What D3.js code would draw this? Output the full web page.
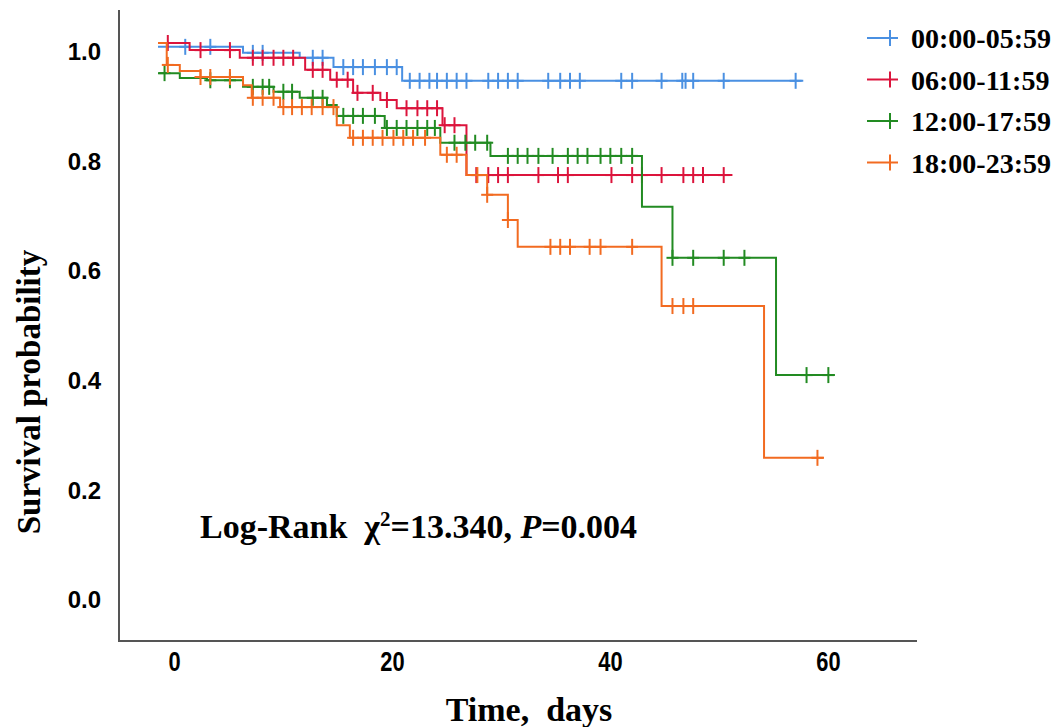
<!DOCTYPE html>
<html>
<head>
<meta charset="utf-8">
<script src="https://cdn.jsdelivr.net/npm/d3@7"></script>
<style>
  body { margin: 0; background: #fff; }
  svg { display: block; }
</style>
</head>
<body>
<script>
// Størrelse på SVG
const w = 1061;
const h = 727;

// Grupper (tidspunkt på døgnet) og farver
const groups = ["00:00-05:59", "06:00-11:59", "12:00-17:59", "18:00-23:59"];
const colors = ["#4a90e2", "#dc143c", "#228b22", "#f26b21"];

// Trin i Kaplan-Meier kurverne: [tid (dage), overlevelse]
const stepsBlue = [[0, 0.993], [7.8, 0.982], [13.0, 0.973], [16.1, 0.956], [22.4, 0.931], [59.2, 0.931]];
const stepsRed = [[0, 1.0], [2.9, 0.987], [7.5, 0.973], [13.5, 0.951], [15.8, 0.933], [17.9, 0.909],
  [20.4, 0.896], [21.9, 0.881], [26.1, 0.850], [28.3, 0.759], [52.7, 0.759]];
const stepsGreen = [[0, 0.945], [2.0, 0.936], [4.5, 0.932], [7.8, 0.920], [10.6, 0.911], [13.0, 0.900],
  [15.5, 0.887], [16.4, 0.867], [20.8, 0.845], [25.9, 0.818], [30.5, 0.794], [44.4, 0.701],
  [47.2, 0.608], [56.7, 0.394], [62.1, 0.394]];
const stepsOrange = [[0, 1.0], [0.8, 0.960], [2.0, 0.949], [3.9, 0.938], [7.8, 0.923], [8.6, 0.900],
  [11.2, 0.883], [16.4, 0.850], [17.6, 0.827], [25.9, 0.796], [28.3, 0.759], [30.2, 0.723],
  [32.1, 0.677], [33.0, 0.628], [46.2, 0.520], [55.6, 0.243], [61.1, 0.243]];

// Censurerede observationer (tid i dage)
const censBlue = [2.5, 4.8, 8.7, 9.6, 14.2, 15.1, 17.0, 17.9, 18.8, 19.9, 21.0, 21.9, 23.1, 24.0, 24.9,
  25.6, 26.5, 27.4, 28.3, 30.3, 31.2, 32.1, 33.0, 35.8, 36.9, 37.8, 38.7, 42.5, 43.5, 46.2, 48.1,
  48.4, 49.1, 51.9, 58.5];
const censRed = [0.9, 3.9, 6.6, 8.7, 9.6, 10.6, 11.5, 12.4, 14.2, 15.1, 16.4, 17.4, 18.3, 19.7, 21.0,
  22.8, 23.8, 24.7, 25.6, 26.3, 27.2, 29.2, 30.3, 31.2, 32.1, 34.9, 36.7, 37.6, 41.6, 43.5, 44.4,
  46.2, 48.2, 49.1, 50.0, 51.9];
const censGreen = [0.6, 4.8, 6.6, 8.7, 9.6, 10.2, 11.5, 12.3, 14.2, 15.1, 17.0, 17.9, 18.8, 19.9, 21.0,
  21.9, 22.8, 23.8, 24.7, 25.4, 27.2, 28.2, 29.1, 30.2, 32.1, 33.0, 33.9, 34.9, 36.2, 37.6, 38.5,
  39.4, 40.6, 41.5, 42.5, 43.5, 47.2, 49.1, 51.9, 53.8, 59.5, 61.5];
const censOrange = [0.9, 3.9, 4.8, 6.6, 8.7, 9.6, 10.6, 11.5, 12.3, 13.2, 14.1, 15.1, 16.1, 17.9, 18.8,
  19.7, 20.6, 21.6, 22.5, 23.4, 24.5, 26.5, 27.4, 29.3, 30.2, 32.1, 36.0, 36.9, 37.8, 39.6, 40.6,
  43.5, 47.2, 48.2, 49.1, 60.5];

// Akse-ticks
const xTicks = [0, 20, 40, 60];
const yTicks = [0, 0.2, 0.4, 0.6, 0.8, 1.0];

const allSteps = [stepsBlue, stepsRed, stepsGreen, stepsOrange];
const allCens = [censBlue, censRed, censGreen, censOrange];

const svg = d3.select("body").append("svg").attr("width", w).attr("height", h);

// Skalaer
const xScale = d3.scaleLinear().domain([0, 60]).range([158, 812]);
const yScale = d3.scaleLinear().domain([0, 1]).range([591, 43]);

// Akselinjer
svg.append("line")
  .attr("x1", 119).attr("y1", 10).attr("x2", 119).attr("y2", 641)
  .attr("stroke", "#555").attr("stroke-width", 2);
svg.append("line")
  .attr("x1", 118).attr("y1", 641).attr("x2", 917).attr("y2", 641)
  .attr("stroke", "#555").attr("stroke-width", 2);

// Y-akse labels (tal)
const yAxis = d3.axisLeft(yScale).tickValues(yTicks).tickSize(0).tickPadding(0)
  .tickFormat(d3.format(".1f"));
const gy = svg.append("g").attr("transform", "translate(101,9)").call(yAxis);
gy.select(".domain").remove();
gy.selectAll("text")
  .style("font-family", "'Liberation Sans', Arial, sans-serif")
  .style("font-weight", "bold")
  .style("font-size", "24px")
  .attr("fill", "#000");

// X-akse labels (tal) - smalle, som Arial Narrow
const xAxis = d3.axisBottom(xScale).tickValues(xTicks).tickSize(0).tickPadding(0);
const gx = svg.append("g").attr("transform", "translate(16,651)").call(xAxis);
gx.select(".domain").remove();
gx.selectAll("text")
  .style("font-family", "'Liberation Sans', Arial, sans-serif")
  .style("font-weight", "bold")
  .style("font-size", "28px")
  .attr("transform", "scale(0.78,1)")
  .attr("fill", "#000");

// Kurver
const line = d3.line()
  .x(d => xScale(d[0]))
  .y(d => yScale(d[1]))
  .curve(d3.curveStepAfter);

function survAt(steps, t) {
  let s = steps[0][1];
  steps.forEach(function (d) {
    if (d[0] <= t) s = d[1];
  });
  return s;
}

allSteps.forEach(function (steps, i) {
  svg.append("path")
    .datum(steps)
    .attr("d", line)
    .attr("fill", "none")
    .attr("stroke", colors[i])
    .attr("stroke-width", 2);

  const marks = svg.append("g").attr("stroke", colors[i]).attr("stroke-width", 2);
  allCens[i].forEach(function (t) {
    const cx = xScale(t);
    const cy = yScale(survAt(steps, t));
    marks.append("line").attr("x1", cx).attr("x2", cx).attr("y1", cy - 8).attr("y2", cy + 8);
    marks.append("line").attr("x1", cx - 6).attr("x2", cx + 6).attr("y1", cy).attr("y2", cy);
  });
});

// Forklaring (legend)
const legend = svg.append("g");
groups.forEach(function (g, i) {
  const ly = 38 + i * 41.5;
  legend.append("line")
    .attr("x1", 867).attr("x2", 898).attr("y1", ly).attr("y2", ly)
    .attr("stroke", colors[i]).attr("stroke-width", 2);
  legend.append("line")
    .attr("x1", 890).attr("x2", 890).attr("y1", ly - 8).attr("y2", ly + 8)
    .attr("stroke", colors[i]).attr("stroke-width", 2);
  legend.append("text")
    .attr("x", 911).attr("y", ly + 10)
    .style("font-family", "'Liberation Serif', 'Times New Roman', serif")
    .style("font-weight", "bold")
    .style("font-size", "28px")
    .text(g);
});

// Aksetitler
svg.append("text")
  .attr("transform", "translate(40,392) rotate(-90)")
  .attr("text-anchor", "middle")
  .style("font-family", "'Liberation Serif', 'Times New Roman', serif")
  .style("font-weight", "bold")
  .style("font-size", "33px")
  .text("Survival probability");

svg.append("text")
  .attr("x", 529).attr("y", 721)
  .attr("text-anchor", "middle")
  .style("font-family", "'Liberation Serif', 'Times New Roman', serif")
  .style("font-weight", "bold")
  .style("font-size", "34px")
  .style("white-space", "pre")
  .text("Time,  days");

// Log-rank test
const lr = svg.append("text")
  .attr("x", 200).attr("y", 538)
  .style("font-family", "'Liberation Serif', 'Times New Roman', serif")
  .style("font-weight", "bold")
  .style("font-size", "34px")
  .style("white-space", "pre");
lr.append("tspan").text("Log-Rank  \u03C7");
lr.append("tspan").attr("dy", -12).style("font-size", "21px").text("2");
lr.append("tspan").attr("dy", 12).text("=13.340, ");
lr.append("tspan").style("font-style", "italic").text("P");
lr.append("tspan").text("=0.004");
</script>
</body>
</html>
